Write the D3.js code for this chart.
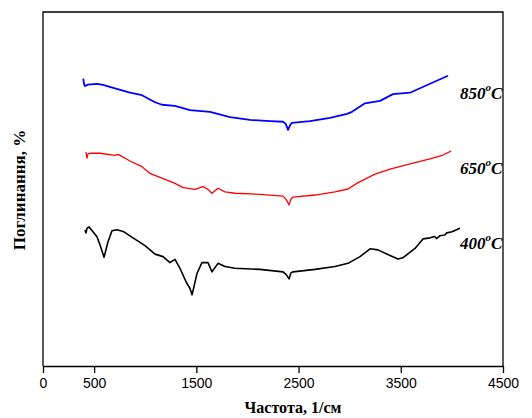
<!DOCTYPE html>
<html>
<head>
<meta charset="utf-8">
<script src="https://cdn.jsdelivr.net/npm/d3@7"></script>
<style>
  body { margin: 0; background: #fff; }
</style>
</head>
<body>
<div id="svg-area"></div>
<script>
// Spectra: [wavenumber, absorption]
var series850 = [
  [394, 81.2], [402, 79.6], [411, 79.1], [440, 79.5], [528, 79.7], [587, 79.4],
  [704, 78.4], [851, 77.2], [968, 76.5], [1096, 74.5], [1164, 73.8], [1291, 73.5],
  [1438, 72.3], [1634, 71.8], [1829, 70.3], [2025, 69.5], [2221, 69.2], [2348, 69.0],
  [2375, 68.4], [2397, 66.7], [2420, 68.2], [2436, 68.7], [2612, 69.2], [2808, 70.1],
  [2974, 71.2], [3023, 71.8], [3150, 74.2], [3297, 74.9], [3424, 76.8], [3590, 77.2],
  [3737, 79.1], [3962, 82.0]
];

var series650 = [
  [420, 60.4], [430, 58.7], [440, 59.9], [460, 60.1], [558, 60.1], [704, 59.5],
  [730, 59.8], [753, 59.5], [851, 57.9], [968, 56.3], [1047, 54.4], [1193, 52.7],
  [1291, 51.6], [1370, 50.4], [1487, 49.9], [1565, 50.7], [1614, 49.9], [1653, 48.8],
  [1712, 50.2], [1780, 49.2], [1878, 48.8], [2123, 48.5], [2348, 48.0], [2380, 47.0],
  [2407, 45.5], [2425, 47.2], [2446, 47.7], [2661, 48.3], [2856, 49.2], [2984, 50.0],
  [3082, 51.8], [3248, 54.2], [3395, 55.6], [3590, 57.1], [3786, 58.5], [3913, 59.6],
  [3991, 60.7]
];

var series400 = [
  [411, 38.4], [421, 37.6], [430, 38.9], [450, 39.3], [489, 37.9], [528, 36.5],
  [558, 34.2], [597, 30.7], [636, 35.1], [675, 38.2], [724, 38.5], [792, 37.9],
  [880, 36.2], [998, 34.0], [1096, 31.6], [1174, 30.9], [1242, 29.2], [1291, 30.1],
  [1340, 27.6], [1399, 23.8], [1438, 21.9], [1458, 20.1], [1507, 26.2], [1555, 29.2],
  [1614, 29.2], [1653, 26.6], [1712, 29.0], [1780, 28.1], [1878, 27.6], [2123, 27.3],
  [2348, 26.6], [2380, 25.8], [2407, 24.6], [2425, 26.3], [2446, 26.6], [2661, 27.3],
  [2856, 28.1], [2984, 29.0], [3101, 30.9], [3199, 33.1], [3277, 32.8], [3395, 31.2],
  [3473, 30.2], [3522, 30.6], [3639, 33.2], [3717, 35.9], [3786, 36.2], [3830, 36.6],
  [3850, 36.0], [3884, 36.8], [3930, 37.0], [3950, 37.6], [4001, 37.9], [4079, 38.9]
];

var seriesNames = ["850", "650", "400"];
var seriesColors = ["#0000ff", "#ff0000", "#000000"];
var seriesWidths = [1.8, 1.3, 1.6];
var labelValues = [75.4, 54.2, 33.0];

var xTicks = [0, 500, 1500, 2500, 3500, 4500];

var svgWidth = 532;
var svgHeight = 418;

var margin = { top: 12, right: 29, bottom: 52, left: 43 };

var chartWidth = svgWidth - margin.left - margin.right;
var chartHeight = svgHeight - margin.top - margin.bottom;

var svg = d3.select("#svg-area")
  .append("svg")
  .attr("width", svgWidth)
  .attr("height", svgHeight);

var chartGroup = svg.append("g")
  .attr("transform", `translate(${margin.left}, ${margin.top})`);

var xScale = d3.scaleLinear()
  .domain([0, 4500])
  .range([0, chartWidth]);

var yScale = d3.scaleLinear()
  .domain([0, 100])
  .range([chartHeight, 0]);

// frame: left, top, right
chartGroup.append("path")
  .attr("d", `M0,${chartHeight}V0H${chartWidth}V${chartHeight}`)
  .attr("fill", "none")
  .attr("stroke", "#000")
  .attr("stroke-width", 1.3);

// bottom axis
var bottomAxis = d3.axisBottom(xScale)
  .tickValues(xTicks)
  .tickSizeInner(7)
  .tickSizeOuter(0)
  .tickPadding(5)
  .tickFormat(d3.format("d"));

var xAxisG = chartGroup.append("g")
  .attr("transform", `translate(0, ${chartHeight})`)
  .call(bottomAxis);

xAxisG.select(".domain").attr("stroke-width", 1.3);
xAxisG.selectAll(".tick line").attr("stroke-width", 1.3);
xAxisG.selectAll(".tick text")
  .attr("font-family", "Liberation Sans, Arial, sans-serif")
  .attr("font-size", 14)
  .attr("fill", "#000");

// lines
var line = d3.line()
  .x(d => xScale(d[0]))
  .y(d => yScale(d[1]));

[series850, series650, series400].forEach(function(data, i) {
  chartGroup.append("path")
    .datum(data)
    .attr("fill", "none")
    .attr("stroke", seriesColors[i])
    .attr("stroke-width", seriesWidths[i])
    .attr("stroke-linejoin", "round")
    .attr("d", line);
});

// series labels
seriesNames.forEach(function(name, i) {
  var t = chartGroup.append("text")
    .attr("x", xScale(4080))
    .attr("y", yScale(labelValues[i]))
    .attr("font-family", "Liberation Serif, Times New Roman, serif")
    .attr("font-weight", "bold")
    .attr("font-style", "italic")
    .attr("font-size", 17)
    .attr("fill", "#000");
  t.append("tspan").text(name);
  t.append("tspan").attr("dy", -8).attr("font-size", 11).text("o");
  t.append("tspan").attr("dy", 8).text("C");
});

// axis titles
svg.append("text")
  .attr("x", margin.left + chartWidth / 2 + 20)
  .attr("y", 413)
  .attr("text-anchor", "middle")
  .attr("font-family", "Liberation Serif, Times New Roman, serif")
  .attr("font-weight", "bold")
  .attr("font-size", 16)
  .text("Частота, 1/см");

svg.append("text")
  .attr("transform", "translate(25, 190) rotate(-90)")
  .attr("text-anchor", "middle")
  .attr("font-family", "Liberation Serif, Times New Roman, serif")
  .attr("font-weight", "bold")
  .attr("font-size", 17)
  .text("Поглинання, %");
</script>
</body>
</html>
